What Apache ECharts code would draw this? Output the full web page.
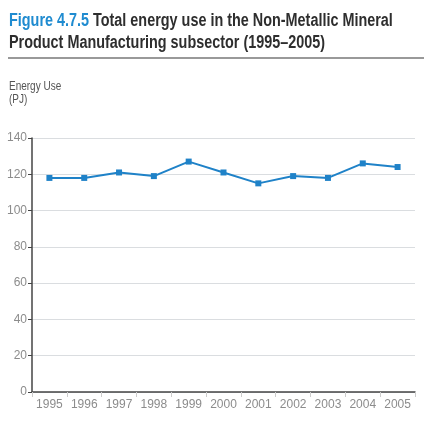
<!DOCTYPE html>
<html><head><meta charset="utf-8">
<script src="https://cdn.jsdelivr.net/npm/echarts@6/dist/echarts.min.js"></script>
<style>html,body{margin:0;padding:0;background:#fff}#c{width:432px;height:432px}</style>
</head><body><div id="c"></div>
<script>
const years = ['1995','1996','1997','1998','1999','2000','2001','2002','2003','2004','2005'];
const energyUse = [118,118,121,119,127,121,115,119,118,126,124];
const yTicks = {min:0, max:140, interval:20};
const titleLines = ['Total energy use in the Non-Metallic Mineral', 'Product Manufacturing subsector (1995–2005)'];
const figLabel = 'Figure 4.7.5';
const unitLabel = 'Energy Use\n(PJ)';

const chart = echarts.init(document.getElementById('c'));
const font = '"Liberation Sans", Arial, sans-serif';
chart.setOption({
  animation:false,
  graphic:[
    {type:'text', x:9, y:10, scaleX:0.8, style:{
      text:'{b|'+figLabel+'} '+titleLines[0]+'\n'+titleLines[1],
      fontFamily:font, fontWeight:'bold', fontSize:18, fill:'#2e2e2e', lineHeight:22,
      rich:{b:{fontFamily:font, fontWeight:'bold', fontSize:18, fill:'#1f8bd0', lineHeight:22}}}},
    {type:'line', shape:{x1:8,y1:58,x2:424,y2:58}, style:{stroke:'#777', lineWidth:1.5}},
    {type:'text', x:9, y:80, scaleX:0.8, style:{
      text:unitLabel, fontFamily:font, fontSize:12.5, fill:'#555', lineHeight:13}}
  ],
  grid:{left:32, right:17, top:138, bottom:40, containLabel:false},
  xAxis:{
    type:'category', data:years, boundaryGap:true,
    axisLine:{lineStyle:{color:'#444', width:1.5}},
    axisTick:{show:true, inside:false, length:5, lineStyle:{color:'#ccc'}},
    axisLabel:{color:'#8c8c8c', fontFamily:font, fontSize:12, margin:7}
  },
  yAxis:{
    type:'value', min:yTicks.min, max:yTicks.max, interval:yTicks.interval,
    axisLine:{show:true, lineStyle:{color:'#444', width:1.5}},
    axisTick:{show:true, length:4, lineStyle:{color:'#444'}},
    axisLabel:{color:'#8c8c8c', fontFamily:font, fontSize:12, margin:5},
    splitLine:{lineStyle:{color:'#dadde0'}}
  },
  series:[{
    type:'line', data:energyUse,
    symbol:'rect', symbolSize:6,
    lineStyle:{color:'#1f82c8', width:2},
    itemStyle:{color:'#1f82c8'}
  }]
});
</script></body></html>
